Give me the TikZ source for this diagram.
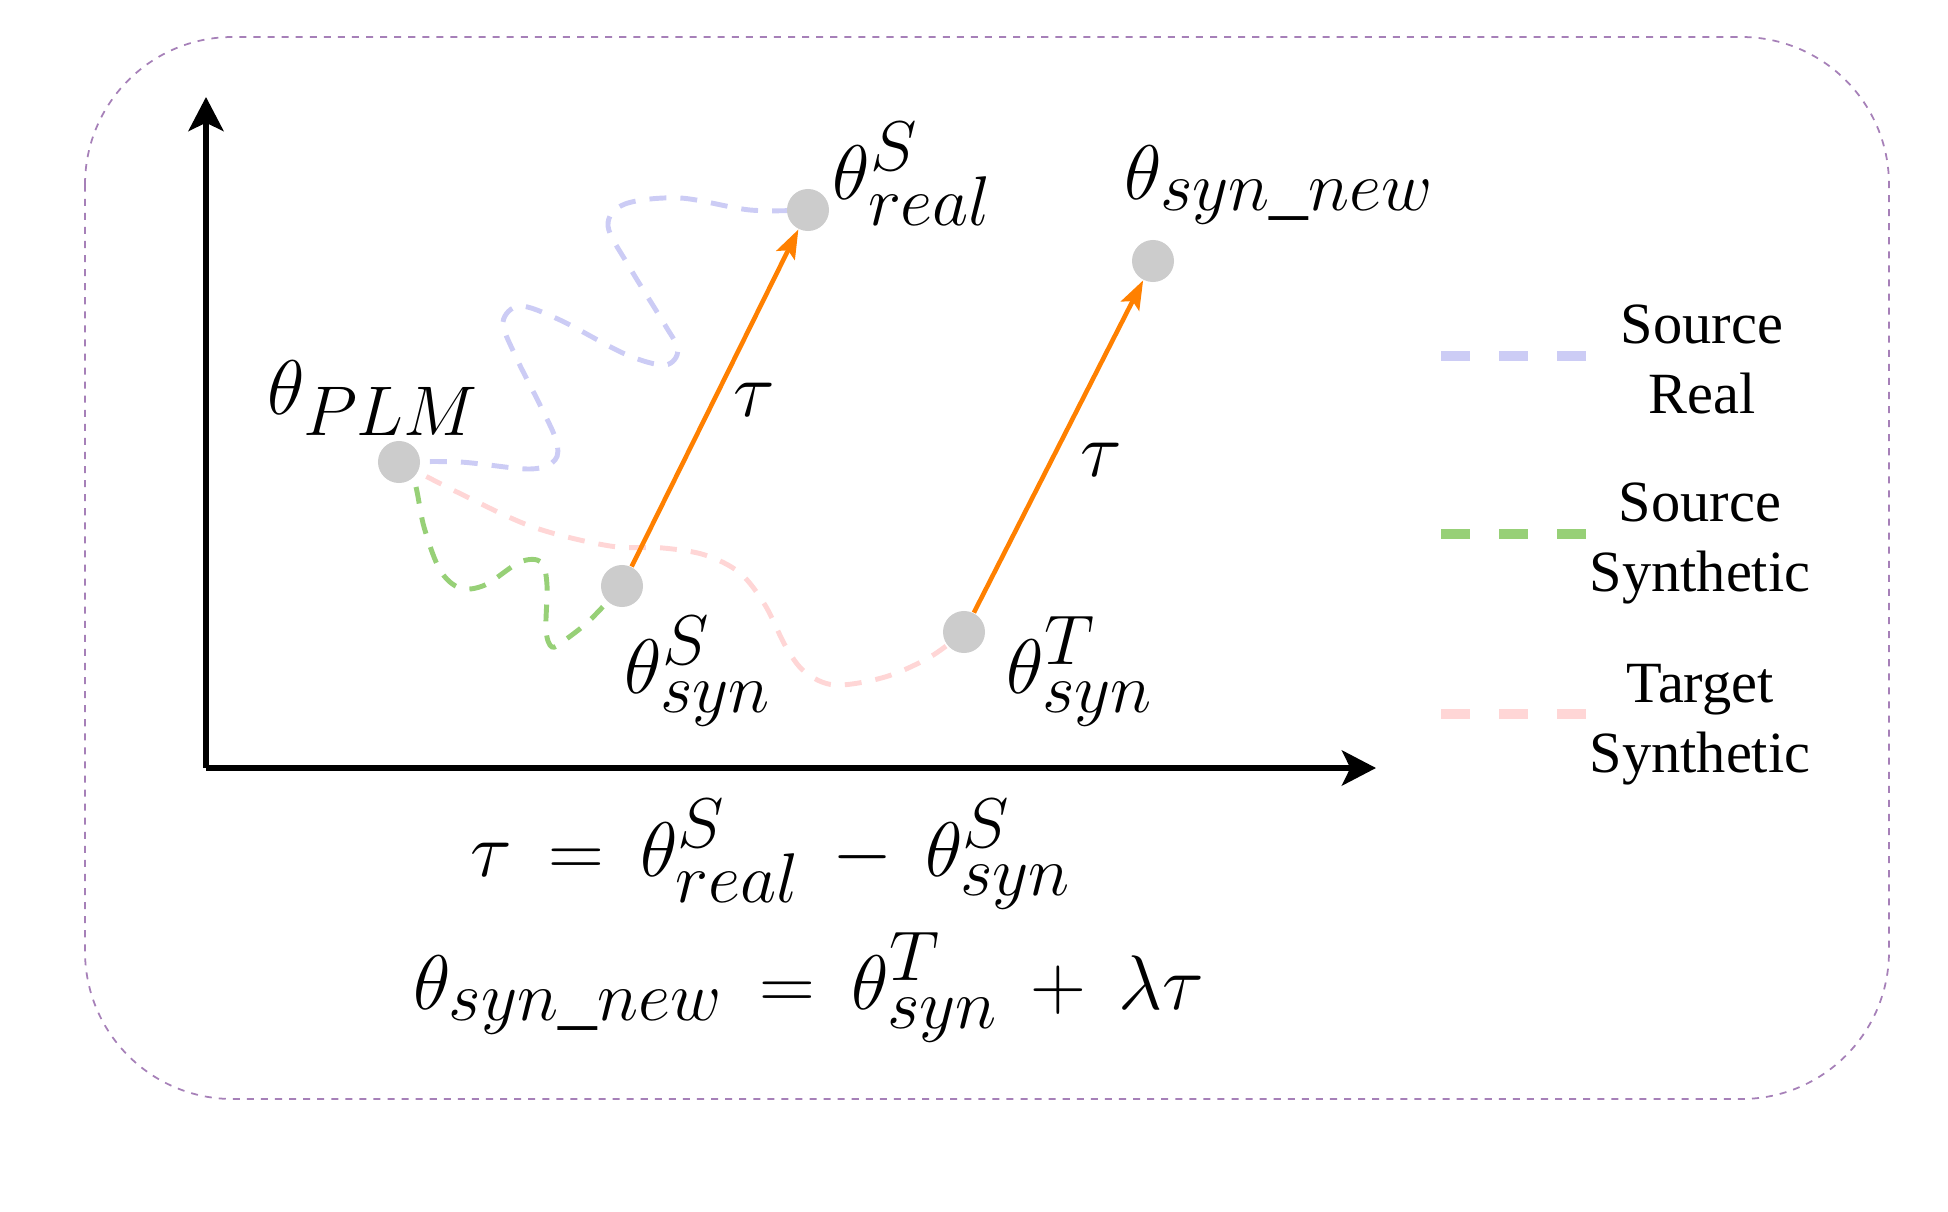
\RequirePackage{fix-cm}
\documentclass[tikz,border=0pt]{standalone}
\usepackage{fontspec}
\setmainfont{Liberation Serif}
\usetikzlibrary{arrows.meta,backgrounds}
\DeclareMathSizes{22}{22}{20}{15}
\definecolor{realblue}{HTML}{CCCCF5}
\definecolor{synthgreen}{HTML}{97D077}
\definecolor{targetpink}{HTML}{FFD6D6}
\definecolor{tauorange}{HTML}{FF8000}
\definecolor{boxpurple}{HTML}{A680B8}
\definecolor{dotgray}{HTML}{CCCCCC}

\begin{document}
\begin{tikzpicture}[x=0.01cm, y=-0.01cm,
    wdot/.style={circle, fill=dotgray, inner sep=0pt, minimum size=0.42cm},
    lbl/.style={inner sep=0pt, font=\fontsize{22}{26}\selectfont},
    eqn/.style={lbl, anchor=base, execute at begin node={\thickmuskip=8.5mu \medmuskip=7.5mu}},
    axisline/.style={line width=1.5pt, -{Stealth[length=9.7pt, width=10pt, inset=2.4pt]}},
    taustep/.style={draw=tauorange, line width=1.3pt, -{Stealth[length=8.2pt, width=5.8pt, inset=1.6pt]}},
    walk/.style={line width=1.4pt, dash pattern=on 4.8pt off 4pt},
    legline/.style={line width=2.7pt, dash pattern=on 8.25pt off 8.25pt},
    legtext/.style={align=center, font=\fontsize{16.6}{19.9}\selectfont}]
    \useasboundingbox (0,0) rectangle (1948,1212);

    % Frame
    \draw[boxpurple, line width=0.5pt, dash pattern=on 2pt off 2pt, rounded corners=42pt]
        (85,37) rectangle (1889,1099);

    % Axes
    \coordinate (origin) at (206,768);
    \coordinate (ytip) at (206,97);
    \coordinate (xtip) at (1376,768);
    \draw[axisline] (origin) -- (ytip);
    \draw[axisline] (origin) -- (xtip);

    % Parameter points
    \node[wdot] (plm) at (399,462) {};
    \node[wdot] (synS) at (622,586) {};
    \node[wdot] (realS) at (808,210) {};
    \node[wdot] (synT) at (964,632) {};
    \node[wdot] (synnew) at (1153,261) {};

    \node[lbl, anchor=base west] (plmlbl) at (267,414) {$\theta_{PLM}$};
    \node[lbl, anchor=base west] (realSlbl) at (832,199) {$\theta^{S}_{real}$};
    \node[lbl, anchor=base west] (synnewlbl) at (1124,199) {$\theta_{syn\_new}$};
    \node[lbl, anchor=base west] (synSlbl) at (624,693) {$\theta^{S}_{syn}$};
    \node[lbl, anchor=base west] (synTlbl) at (1006,693) {$\theta^{T}_{syn}$};

    % Fine-tuning trajectories
    \begin{scope}[on background layer]
        \draw[walk, realblue] plot[smooth, tension=0.55] coordinates {(plm.center) (460,462) (530,469)
            (555,460) (556,440) (540,405) (515,355) (503,322) (520,306) (560,320) (625,354)
            (665,365) (678,350) (665,325) (630,268) (608,226) (625,204) (680,198) (750,210) (realS.center)};
        \draw[walk, synthgreen] plot[smooth, tension=0.55] coordinates {(plm.center) (414,480) (424,527)
            (440,570) (460,588) (485,585) (520,562) (541,562) (547,585) (546,630) (552,647)
            (565,640) (590,620) (synS.center)};
        \draw[walk, targetpink] plot[smooth, tension=0.55] coordinates {(plm.center) (457,492) (533,527)
            (610,546) (663,548) (705,555) (740,573) (765,605) (786,647) (805,672) (835,685)
            (885,677) (930,657) (synT.center)};
    \end{scope}

    % Task vector
    \draw[taustep] (synS) -- (realS);
    \draw[taustep] (synT) -- (synnew);
    \node[lbl] (tau1) at (754,400) {$\tau$};
    \node[lbl] (tau2) at (1101,460) {$\tau$};

    % Equations
    \node[eqn] (eqtau) at (771,876) {$\tau = \theta^{S}_{real} - \theta^{S}_{syn}$};
    \node[eqn] (eqnew) at (809,1009) {$\theta_{syn\_new} = \theta^{T}_{syn} + \lambda\tau$};

    % Legend
    \draw[legline, realblue] (1441,356) -- (1586,356);
    \node[legtext] (legreal) at (1702,359) {Source\\Real};
    \draw[legline, synthgreen] (1441,534) -- (1586,534);
    \node[legtext] (legsyn) at (1700,543) {Source\\Synthetic};
    \draw[legline, targetpink] (1441,714) -- (1586,714);
    \node[legtext] (legtarget) at (1700,725) {Target\\Synthetic};
\end{tikzpicture}
\end{document}
